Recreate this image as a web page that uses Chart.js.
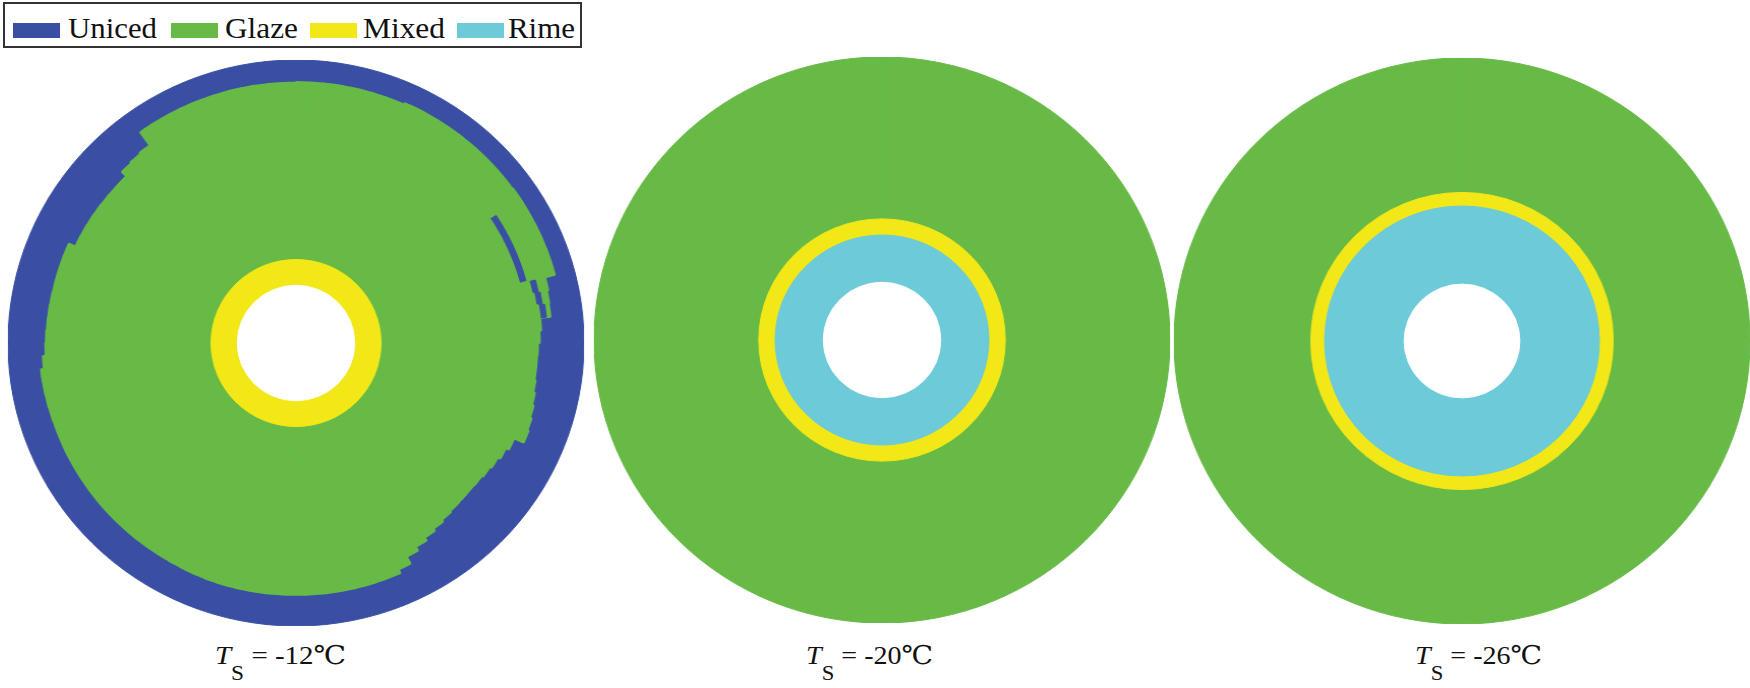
<!DOCTYPE html>
<html>
<head>
<meta charset="utf-8">
<script src="https://cdn.jsdelivr.net/npm/chart.js@4.4.1/dist/chart.umd.min.js"></script>
<style>
html,body{margin:0;padding:0;background:#fff;}
#stage{position:relative;width:1750px;height:688px;overflow:hidden;font-family:"Liberation Serif","DejaVu Serif",serif;color:#111;}
.disk{position:absolute;width:566px;height:566px;transform:scaleX(1.018);transform-origin:50% 50%;}
#legend{position:absolute;left:3px;top:2px;width:575px;height:42px;border:2px solid #333;}
.sw{position:absolute;width:47px;height:15px;top:19px;}
.lt{position:absolute;top:10px;font-size:29px;line-height:29px;white-space:nowrap;transform-origin:0 50%;}
.cap{position:absolute;top:643px;font-size:26px;line-height:26px;white-space:nowrap;transform-origin:0 50%;}
.cap i{font-style:italic;}
.cap .sub{font-size:21px;position:relative;top:16px;}
</style>
</head>
<body>
<div id="stage">
  <div id="legend"></div>
</div>
<script>
// ---------- data ----------
const seriesNames  = ['Uniced', 'Glaze', 'Mixed', 'Rime'];
const seriesColors = ['#3a4fa4', '#67ba46', '#f3e817', '#6ccad9'];
const holeColor = '#ffffff';

// surface temperatures of the three cases
const caseTemps = ['-12', '-20', '-26'];

// sector start angles (deg, clockwise from top) used for case 1
const sectorAngles1 = [0,3,6,9,12,15,18,21,24,27,30,33,36,39,42,45,48,51,54,57,60,63,66,69,72,75,78,81,84,87,
  90,93,96,99,102,105,108,111,114,117,120,123,126,129,132,135,138,141,144,147,150,153,156,159,162,165,168,171,174,177,
  180,183,186,189,192,195,198,201,204,207,210,213,216,219,222,225,228,231,234,237,240,243,246,249,252,255,258,261,264,267,
  270,273,276,279,282,285,288,291,294,297,300,303,306,309,312,315,318,321,324,327,330,333,336,339,342,345,348,351,354,357];

// case 1 (Ts=-12): relative outer radius of the glaze zone per sector (uniced outside it)
const uniced1 = [1.0];
const glaze1 = [
  0.922,0.922,0.922,0.922,0.922,0.922,0.922,0.922,
  0.928,0.928,0.928,0.928,0.928,0.928,0.928,0.928,0.928,0.928,
  0.93,0.93,0.93,0.93,0.93,0.93,0.93,
  0.895,0.89,0.888,
  0.852,0.846,0.84,0.838,0.838,0.842,0.848,0.854,0.86,0.865,
  0.829,0.818,0.809,0.803,0.798,0.796,0.797,0.799,0.804,0.811,0.82,0.832,0.847,
  0.875,
  0.89,0.89,0.89,0.89,0.89,0.89,0.89,0.89,0.89,0.89,0.89,0.89,0.89,0.89,0.89,
  0.889,0.888,0.887,0.886,0.886,0.886,0.886,0.886,0.886,0.886,0.886,0.886,0.886,0.886,0.886,0.886,0.886,
  0.887,0.888,0.889,0.89,
  0.88,
  0.87,0.868,0.866,0.865,0.864,0.863,0.863,0.863,0.863,
  0.838,0.837,0.836,0.835,0.834,0.833,0.833,
  0.855,0.859,0.864,
  0.92,0.92,0.92,0.92,0.92,0.92,0.92,0.92,0.92,0.92,0.92,0.92];
// thin uniced strips inside the glaze zone: outer radius / inner radius per sector
const unicedStripOuter1 = [0,0,0,0,0,0,0,0,0,0,0,0,0,0,0,0,0,0,0,0.828,0.828,0.828,0.828,0.828,0.828,0.86,0.866,0.874,0,0,
  0,0,0,0,0,0,0,0,0,0,0,0,0,0,0,0,0,0,0,0,0,0,0,0,0,0,0,0,0,0,
  0,0,0,0,0,0,0,0,0,0,0,0,0,0,0,0,0,0,0,0,0,0,0,0,0,0,0,0,0,0,
  0,0,0,0,0,0,0,0,0,0,0,0,0,0,0,0,0,0,0,0,0,0,0,0,0,0,0,0,0,0];
const unicedStripInner1 = [0,0,0,0,0,0,0,0,0,0,0,0,0,0,0,0,0,0,0,0.801,0.801,0.801,0.801,0.801,0.801,0.835,0.841,0.849,0,0,
  0,0,0,0,0,0,0,0,0,0,0,0,0,0,0,0,0,0,0,0,0,0,0,0,0,0,0,0,0,0,
  0,0,0,0,0,0,0,0,0,0,0,0,0,0,0,0,0,0,0,0,0,0,0,0,0,0,0,0,0,0,
  0,0,0,0,0,0,0,0,0,0,0,0,0,0,0,0,0,0,0,0,0,0,0,0,0,0,0,0,0,0];
const mixed1 = [0.295];
const hole1 = [0.204];

// case 2 (Ts=-20)
const glaze2 = [1.0];
const mixed2 = [0.428];
const rime2  = [0.371];
const hole2  = [0.204];

// case 3 (Ts=-26)
const glaze3 = [1.0];
const mixed3 = [0.525];
const rime3  = [0.477];
const hole3  = [0.201];

// ---------- legend & captions (text) ----------
function fitWidth(el, target) {
  const w = el.getBoundingClientRect().width;
  if (w > 0) el.style.transform = 'scaleX(' + (target / w).toFixed(4) + ')';
}
const legend = document.getElementById('legend');
const swLeft = [8, 166, 305, 452];
const txLeft = [63, 220, 358, 503];
const txWidth = [89, 73, 82, 67];
seriesNames.forEach((n, i) => {
  const s = document.createElement('div');
  s.className = 'sw'; s.style.left = swLeft[i] + 'px'; s.style.background = seriesColors[i];
  legend.appendChild(s);
  const t = document.createElement('span');
  t.className = 'lt'; t.style.left = txLeft[i] + 'px'; t.textContent = n;
  legend.appendChild(t);
  fitWidth(t, txWidth[i]);
});

const stage = document.getElementById('stage');
const diskPos = [[13, 60], [599, 57], [1179, 58]];
const capLeft = [215, 806, 1415];
const capWidth = [131, 127, 127];
caseTemps.forEach((t, i) => {
  const c = document.createElement('span');
  c.className = 'cap';
  c.style.left = capLeft[i] + 'px';
  c.innerHTML = '<i>T</i><span class="sub">S</span> = ' + t + '\u2103';
  stage.appendChild(c);
  fitWidth(c, capWidth[i]);
});

// ---------- charts ----------
function ring(label, data, color, bw) {
  return { label, data, backgroundColor: color, borderColor: color, borderWidth: bw || 1 };
}
function makeDisk(idx, labels, datasetsTopFirst) {
  const div = document.createElement('div');
  div.className = 'disk';
  div.style.left = diskPos[idx][0] + 'px';
  div.style.top = diskPos[idx][1] + 'px';
  const cv = document.createElement('canvas');
  div.appendChild(cv);
  stage.appendChild(div);
  new Chart(cv, {
    type: 'polarArea',
    data: { labels, datasets: datasetsTopFirst },
    options: {
      responsive: true, maintainAspectRatio: false, animation: false, events: [],
      layout: { padding: 0 },
      plugins: { legend: { display: false }, tooltip: { enabled: false } },
      scales: { r: { min: 0, max: 1, display: false, startAngle: 0,
        ticks: { display: false }, grid: { display: false }, pointLabels: { display: false } } }
    }
  });
}

const labels1 = sectorAngles1.map(a => a + '°');
makeDisk(0, labels1, [
  ring('Hole', hole1, holeColor),
  ring(seriesNames[2], mixed1, seriesColors[2]),
  ring(seriesNames[1] + ' (inside strip)', unicedStripInner1, seriesColors[1], 3),
  ring(seriesNames[0] + ' (strip)', unicedStripOuter1, seriesColors[0]),
  ring(seriesNames[1], glaze1, seriesColors[1], 2),
  ring(seriesNames[0], uniced1, seriesColors[0])
]);
makeDisk(1, ['all'], [
  ring('Hole', hole2, holeColor),
  ring(seriesNames[3], rime2, seriesColors[3]),
  ring(seriesNames[2], mixed2, seriesColors[2]),
  ring(seriesNames[1], glaze2, seriesColors[1])
]);
makeDisk(2, ['all'], [
  ring('Hole', hole3, holeColor),
  ring(seriesNames[3], rime3, seriesColors[3]),
  ring(seriesNames[2], mixed3, seriesColors[2]),
  ring(seriesNames[1], glaze3, seriesColors[1])
]);
</script>
</body>
</html>
